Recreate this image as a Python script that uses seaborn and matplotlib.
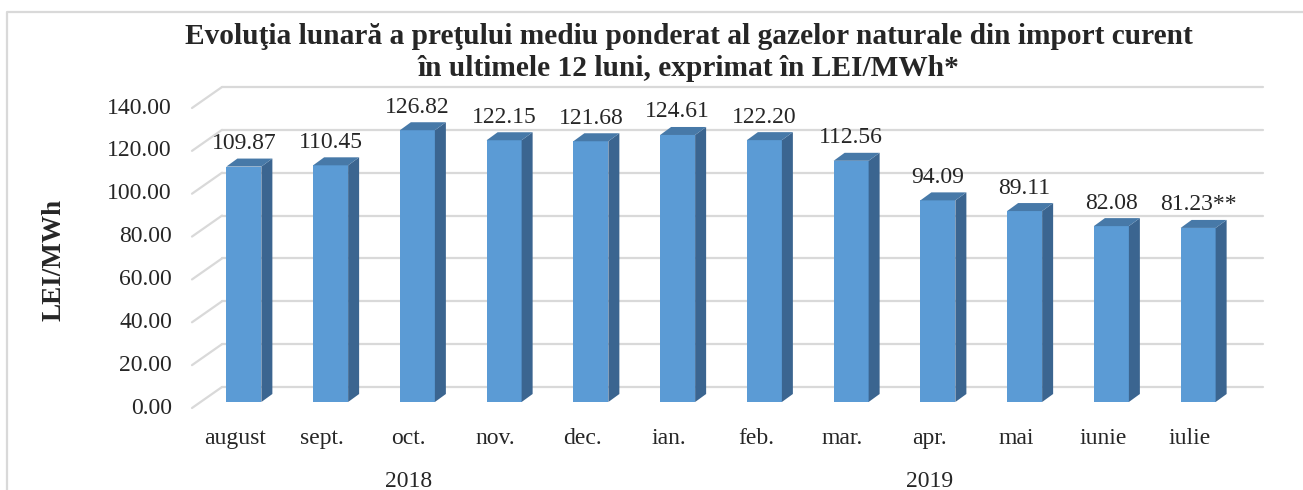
import numpy as np
import pandas as pd
import matplotlib
matplotlib.use("Agg")
import matplotlib.pyplot as plt
from matplotlib.patches import Polygon
import seaborn as sns

#------------------------------------------------------------------------------
# data
#------------------------------------------------------------------------------
months = ['august', 'sept.', 'oct.', 'nov.', 'dec.', 'ian.',
          'feb.', 'mar.', 'apr.', 'mai', 'iunie', 'iulie']
prices = [109.87, 110.45, 126.82, 122.15, 121.68, 124.61,
          122.20, 112.56, 94.09, 89.11, 82.08, 81.23]
value_labels = ['109.87', '110.45', '126.82', '122.15', '121.68', '124.61',
                '122.20', '112.56', '94.09', '89.11', '82.08', '81.23**']
years = ['2018', '2019']
year_span = [(0, 4), (5, 11)]
yticks = [0, 20, 40, 60, 80, 100, 120, 140]

title_1 = 'Evoluţia lunară a preţului mediu ponderat al gazelor naturale din import curent'
title_2 = 'în ultimele 12 luni, exprimat în LEI/MWh*'

df = pd.DataFrame({'luna': months, 'pret': prices})

#------------------------------------------------------------------------------
# style
#------------------------------------------------------------------------------
sns.set_style('white')
plt.rcParams['font.family'] = ['Liberation Serif', 'DejaVu Serif']

c_front = '#5b9bd5'
c_side = '#3b6590'
c_top = '#4779a8'
c_grid = '#d9d9d9'

W, H = 1303, 490
fig = plt.figure(figsize=(W / 100, H / 100), dpi=100)
# bar front plane: x -0.5..11.5 -> px 200.5..1241.5, y 0..140 -> px 402..102
ax = fig.add_axes([200.5 / W, (H - 402) / H, 1041 / W, 300 / H])

sx = 1041 / 12.0   # px per category
sy = 300 / 140.0   # px per LEI/MWh

def dx(px):
    return px / sx

def dy(px):
    return px / sy

sns.barplot(data=df, x='luna', y='pret', color=c_front, saturation=1,
            width=35 / sx, ax=ax, zorder=3)
ax.set_xlim(-0.5, 11.5)
ax.set_ylim(0, 140)
ax.set_xlabel('')
ax.set_ylabel('')
ax.set_xticks([])
ax.set_yticks([])
for s in ax.spines.values():
    s.set_visible(False)
ax.patch.set_alpha(0)

# 3d offsets (px): floor front edge, back wall, bar depth
front_off = (dx(-8.5), dy(-6))
back_off = (dx(21.5), dy(15))
depth = (dx(11), dy(8))

#------------------------------------------------------------------------------
# back wall gridlines + side wall diagonals
#------------------------------------------------------------------------------
x_left, x_right = -0.5, 11.5
for v in yticks:
    ax.plot([x_left + back_off[0], x_right + back_off[0]],
            [v + back_off[1], v + back_off[1]],
            color=c_grid, lw=1.6, clip_on=False, zorder=1)
    ax.plot([x_left + front_off[0], x_left + back_off[0]],
            [v + front_off[1], v + back_off[1]],
            color=c_grid, lw=1.6, clip_on=False, zorder=1)
    ax.text(x_left + dx(172 - 200.5), v + front_off[1], f'{v:.2f}',
            ha='right', va='center', fontsize=17, clip_on=False)

#------------------------------------------------------------------------------
# side and top faces of each bar
#------------------------------------------------------------------------------
for p, lab in zip(ax.patches, value_labels):
    x0 = p.get_x()
    x1 = x0 + p.get_width()
    h = p.get_height()
    p.set_edgecolor('none')
    side = Polygon([(x1, 0), (x1 + depth[0], depth[1]),
                    (x1 + depth[0], h + depth[1]), (x1, h)],
                   closed=True, facecolor=c_side, edgecolor='none',
                   zorder=3, clip_on=False)
    top = Polygon([(x0, h), (x1, h), (x1 + depth[0], h + depth[1]),
                   (x0 + depth[0], h + depth[1])],
                  closed=True, facecolor=c_top, edgecolor='none',
                  zorder=3, clip_on=False)
    ax.add_patch(side)
    ax.add_patch(top)
    ax.text((x0 + x1) / 2, h + dy(23), lab, ha='center', va='center',
            fontsize=17, clip_on=False)

#------------------------------------------------------------------------------
# category labels and years
#------------------------------------------------------------------------------
for i, m in enumerate(months):
    ax.text(i + front_off[0], dy(-36), m, ha='center', va='center',
            fontsize=17, clip_on=False)
for yr, (a, b) in zip(years, year_span):
    ax.text((a + b) / 2 + front_off[0], dy(-79), yr, ha='center',
            va='center', fontsize=17, clip_on=False)

fig.text(54 / W, 1 - 260 / H, 'LEI/MWh', rotation=90, ha='center',
         va='center', fontsize=19.5, fontweight='bold')

fig.text(689 / W, 1 - 37 / H, title_1, ha='center', va='center',
         fontsize=21.2, fontweight='bold')
fig.text(688 / W, 1 - 68 / H, title_2, ha='center', va='center',
         fontsize=21.2, fontweight='bold')

# outer frame (top and left edge visible in the reference)
fig.add_artist(plt.Line2D([7 / W, 7 / W, 1], [0, 1 - 12 / H, 1 - 12 / H],
                          color='#d9d9d9', lw=1.6))

fig.savefig('out.png', dpi=100)
